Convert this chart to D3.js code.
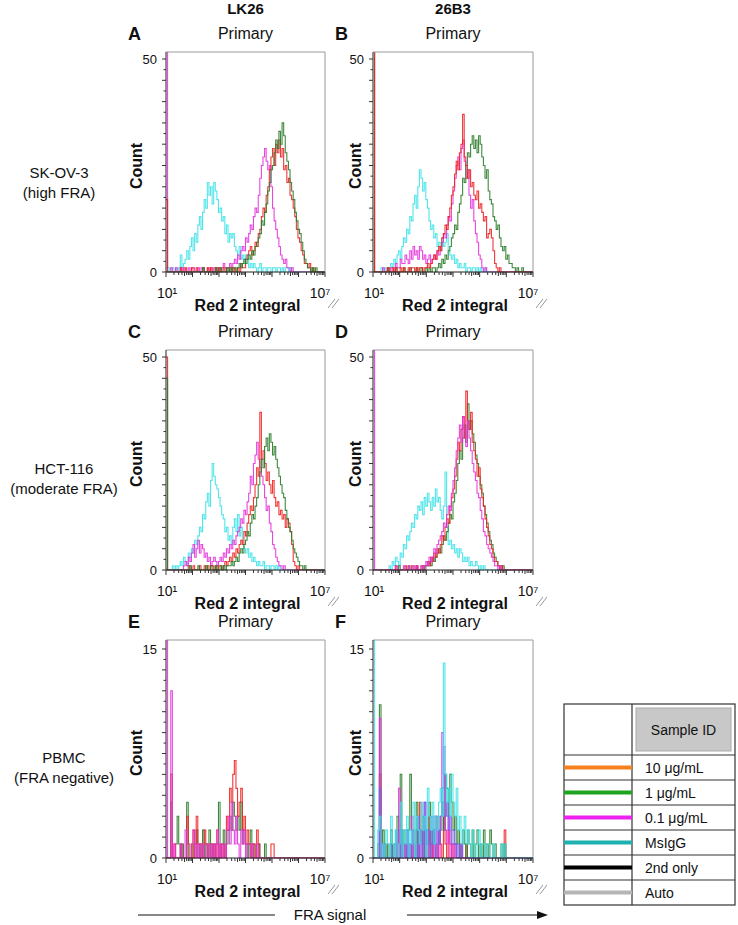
<!DOCTYPE html>
<html><head><meta charset="utf-8">
<script src="https://cdn.jsdelivr.net/npm/d3@7"></script>
<style>
body{margin:0;background:#fff}
svg{display:block}
text{font-family:"Liberation Sans",Arial,Helvetica,sans-serif;fill:#111}
</style>
</head><body>
<svg id="c" width="738" height="925"></svg>
<script>
// ---------- DATA ----------
const binLogStart = 1.0;     // log10 of first histogram channel
const binLogWidth = 0.06;    // channel width in decades
const logEnd = 7;
const columnTitles = ["LK26", "26B3"];
const rowTitles = [["SK-OV-3", "(high FRA)"], ["HCT-116", "(moderate FRA)"], ["PBMC", "(FRA negative)"]];
const panelLetters = ["A", "B", "C", "D", "E", "F"];
const panelTitle = "Primary";
const rowYMax = [50, 50, 15];
const xTickLabels = ["10\u00B9", "10\u2077"];
const xAxisTitle = "Red 2 integral";
const yAxisTitle = "Count";
const bottomLabel = "FRA signal";
const legendHeader = "Sample ID";
const legendLabels = ["10 \u03BCg/mL", "1 \u03BCg/mL", "0.1 \u03BCg/mL", "MsIgG", "2nd only", "Auto"];
const legendColors = ["#f5821f", "#1ea41e", "#ee22ee", "#1fb0b0", "#000000", "#b5b5b5"];
const seriesColors = {cyan: "#3fe2e8", magenta: "#e433dc", red: "#ee2222", green: "#2a7c2a", violet: "#7264ee"};

// Panel A
const A_cyan = [1,1,0,1,1,0,1,0,1,4, 1,2,3,5,3,6,8,5,9,7, 11,13,10,14,17,15,21,18,20,16, 21,19,17,14,15,12,13,9,11,7, 9,8,9,6,5,4,6,3,4,2, 4,3,1,2,1,2,1,0,1,2, 0,1,1,0,1,1,0,1,1,0, 1,1,0,1,0,1,1,0,1,0];
const A_magenta = [60, 0,0,1,0,0,1,0,0,1,0, 1,0,0,1,0,1,1,0,0,1, 0,1,1,0,0,1,0,1,0,1, 1,0,1,0,1,2,1,0,1,2, 1,2,3,2,4,3,5,6,5,8, 7,9,11,10,13,15,14,18,22,25, 27,29,26,24,25,20,15,12,10,8, 6,4,3,2,3,1,1,0,1];
const A_red = [17,0,0,0,0,0,0,0,0,1, 0,0,1,0,0,0,1,0,0,1, 0,0,0,1,0,0,1,0,1,0, 0,1,0,1,0,0,1,0,1,1, 0,1,0,1,0,
  1,0,2,1,1,3,4,5,6,4, 5,7,6,9,10,13,15,14,18,20, 24,27,29,25,30,28,31,27,29,24, 25,21,22,18,17,15,13,10,8,7, 5,4,2,2,1,2,0,1];
const A_green = [0,0,0,0,0,0,0,0,0,0, 0,0,0,0,0,0,0,0,0,0, 0,0,0,1,0,0,0,0,0,0, 0,1,0,0,1,0,0,0,1,0,
  1,0,1,1,0,1,2,1,2,3, 2,3,4,3,5,4,6,7,8,9, 12,11,14,16,19,21,24,25,28,31, 29,33,30,35,32,28,26,24,21,19, 17,14,12,10,9,7,5,3,2,1, 1,0,1,0,1];
// Panel B
const B_cyan = [0,0,0,0,0,1,0,1,0,0, 1,2,1,3,2,4,5,3,6,8, 7,10,9,13,12,16,18,15,20,24, 22,19,21,17,15,12,10,11,8,9, 6,7,5,8,6,7,9,5,4,3, 4,2,3,1,2,1,1,2,0,1, 1,0,1,1,0,1,0,1,0,0, 1];
const B_magenta = [0,0,0,0,0,0,1,0,0,1, 0,1,1,0,2,1,1,3,2,2, 4,3,2,5,3,6,4,5,3,6, 5,3,4,2,3,4,2,3,4,3, 5,4,6,7,9,8,11,13,12,16, 19,22,25,27,24,29,31,26,22,24, 18,15,17,12,9,7,4,3,1,0, 1,0];
const B_red = [60,0,0,0,0,0,0,0,0,1, 0,0,1,0,1,0,0,1,0,1, 0,0,1,0,1,1,0,1,0,1, 1,0,1,1,2,1,2,3,4,3, 5,6,5,8,9,11,10,13,15,18, 20,23,26,24,28,30,37,27,25,22, 24,20,21,18,17,19,15,16,14,12, 13,8,9,10,8,5,2,1,0,1];
const B_green = [60, 0,0,0,0,0,0,0,0,1,0, 0,0,0,1,0,0,0,0,1,0, 0,0,1,0,0,0,1,0,0,1, 0,0,1,0,1,0,1,1,0,
  1,2,1,3,2,4,3,5,6,8, 9,11,10,14,16,18,22,21,25,28, 27,30,32,29,31,28,32,30,27,25, 22,24,19,17,16,13,12,10,11,8, 6,5,6,3,4,2,2,1,1,0, 1,0,0,1];
// Panel C
const C_cyan = [0,0,0,0,1,0,1,0,1,2, 1,3,2,1,4,3,5,4,7,6, 8,10,9,13,12,16,18,15,21,25, 22,20,19,17,15,13,12,9,10,7, 8,6,10,12,9,13,8,10,6,5, 4,5,3,4,2,3,2,1,2,1, 1,2,0,1,1,0,1,1,0,1, 0,1];
const C_magenta = [0,0,0,0,0,0,0,0,0,0, 0,1,2,1,3,2,4,6,3,5, 7,4,6,5,3,4,2,3,1,2, 3,2,1,2,3,2,4,3,5,4, 6,5,7,6,8,9,10,12,11,14, 13,16,18,22,20,25,27,30,26,24, 22,20,17,14,15,11,9,6,5,3, 2,1,1,0,1];
const C_red = [50,0,0,0,0,0,0,0,0,0, 0,0,0,0,1,0,0,1,0,0, 0,1,0,0,1,0,1,0,1,1, 0,1,0,1,1,0,1,2,1,2, 3,2,4,3,5,4,6,7,6,9, 8,11,13,15,14,17,20,24,22,37, 26,28,25,21,23,20,18,21,17,15, 16,13,14,12,13,10,12,11,9,6, 2,1,0,1];
const C_green = [45, 0,0,0,0,0,0,0,0,0,0, 0,0,0,0,1,0,0,0,0,1, 0,0,0,0,1,0,0,1,0,0, 1,0,0,1,0,1,0,1,1,
  1,2,1,2,3,2,4,5,4,6, 7,9,8,11,13,12,15,17,20,23, 26,24,29,31,28,32,30,27,29,26, 24,22,20,18,17,14,12,10,9,7, 5,4,3,2,1,1,0,1];
// Panel D
const D_cyan = [0,0,0,0,0,0,0,0, 0,0,1,0,2,1,3,2,1,4, 3,6,5,8,7,9,11,10,13,12, 15,14,16,13,17,15,18,16,14,17, 15,19,16,17,14,12,15,23,10,6, 7,5,6,4,5,3,5,4,2,3, 2,3,1,2,1,1,2,1,0,1, 0,1];
const D_magenta = [60, 0,0,0,0,0,0,0,0,0,0, 0,0,0,1,0,0,0,0,1,0, 0,1,0,0,1,0,1,0,0,1, 0,1,
  2,1,3,2,3,5,4,6,7,8, 9,11,10,13,15,14,18,21,24,28, 31,34,30,36,33,29,35,31,28,25, 23,21,18,17,14,12,9,8,6,5, 4,3,2,1,1,0,1];
const D_red = [0,0,0,0,0,0,0,0,0,0, 0,0,0,0,1,0,0,0,0,0, 1,0,0,0,1,0,0,1,0,0, 1,0,1,
  1,2,1,3,2,4,3,5,4,6, 8,7,10,12,11,15,17,19,22,26, 30,28,33,36,31,42,35,33,37,30, 28,26,22,24,19,17,15,12,10,8, 6,5,3,2,2,1,0,1];
const D_green = [0,0,0,0,0,0,0,0,0,0, 0,0,0,0,0,0,1,0,0,0, 0,0,1,0,0,0,0,1,0,0, 0,1,0,
  1,1,2,1,3,2,3,4,5,4, 6,8,7,9,11,13,12,16,18,21, 25,28,26,31,34,30,39,33,35,32, 30,27,25,22,20,18,15,13,11,9, 7,6,4,3,2,1,1,0,1];
// Panel E
const E_magenta = [20,0,0,12,0,1,0,0,0,1, 0,0,2,0,0,0,1,2,0,1, 0,1,0,1,0,0,1,0,1,0, 1,0,2,0,1,0,1,0,2,3, 1,4,2,1,3,1,0,2,1,2, 0,1,1,0,1,0,0,1,0,0];
const E_red = [0,0,0,6,0,1,0,0,0,1, 0,0,0,3,1,0,0,2,0,3, 1,0,1,0,2,1,0,1,1,0, 1,0,2,0,1,0,1,0,3,2, 5,4,6,7,5,3,4,5,2,3, 1,2,1,0,1,1,0,2,1,0, 0,0,0,0,0,0,1,1,0,0];
const E_green = [0,0,0,4,0,0,1,3,1,0, 1,0,0,4,0,0,1,0,1,2, 0,1,0,2,0,1,0,2,0,1, 0,1,1,4,0,1,2,0,1,2, 3,2,4,3,2,3,2,4,1,2, 1,0,1,2,0,1,0,0,1,0, 0,0,1,0,0,0,0,0,0,0];
// Panel F
const F_cyan = [20,0,0,2,3,0,1,0,2,1, 0,3,1,0,2,0,1,4,0,2, 1,3,0,2,1,4,0,3,2,1, 4,2,3,0,5,3,2,4,1,3, 2,4,5,3,14,6,4,5,3,6, 4,3,5,2,3,1,2,3,1,2, 1,0,2,1,0,1,2,0,1,1, 0,1,1,0,0,1,0,0,0,0, 1,0,1,0,0];
const F_violet = [0,0,0,0,5,0,1,0,0,0, 0,1,0,0,2,0,0,2,0,1, 0,2,0,1,0,2,0,0,3,0, 2,0,4,1,2,0,3,1,2,0, 3,1,2,5,8,3,4,2,3,1, 2,1,0,1,0,1,0,0,0,0];
const F_magenta = [0,0,0,0,10,0,1,0,0,0, 0,0,0,0,1,0,5,0,0,1, 0,2,0,1,3,0,0,1,0,2, 0,1,4,0,2,0,1,0,3,0, 2,0,3,9,6,2,1,3,0,1, 0,1,0,0,0,1,0,0,0,0];
const F_green = [0,0,0,1,11,0,2,1,0,1, 0,2,0,1,0,3,1,6,0,2, 1,0,2,6,2,1,0,4,0,2, 1,3,0,2,1,4,0,2,1,3, 2,1,3,4,2,6,5,3,6,4, 2,3,1,2,0,1,2,1,0,2, 1,0,2,0,1,2,0,1,0,2, 0,1,0,2,1,0,1,0,0,0, 1,0,1,0,0];
const F_red = [0,0,0,0,6,0,0,1,0,0, 0,1,0,0,1,0,0,2,0,1, 0,0,1,0,1,0,0,2,0,4, 1,0,2,1,0,3,1,0,2,1, 0,2,1,0,3,1,0,2,1,0, 1,1,0,0,1,0,0,0,1,0, 0,0,0,0,0,0,0,0,0,0, 0,0,0,0,0,0,0,0,0,0, 0,0,2,0,0];

// ---------- LAYOUT ----------
const svg = d3.select("#c");
const cols = [{x0: 166, x1: 325, countX: 142, letterX: 128}, {x0: 373, x1: 533, countX: 361, letterX: 335}];
const rows = [{y0: 272, tickTop: 59, top: 52, label: 59, labelY: 178},
              {y0: 570, tickTop: 357, top: 350, label: 64, labelY: 474},
              {y0: 858, tickTop: 649, top: 640, label: 64, labelY: 763}];
const panels = [
  [["cyan", A_cyan], ["magenta", A_magenta], ["red", A_red], ["green", A_green]],
  [["cyan", B_cyan], ["magenta", B_magenta], ["green", B_green], ["red", B_red]],
  [["cyan", C_cyan], ["magenta", C_magenta], ["red", C_red], ["green", C_green]],
  [["cyan", D_cyan], ["green", D_green], ["red", D_red], ["magenta", D_magenta]],
  [["green", E_green], ["red", E_red], ["magenta", E_magenta]],
  [["red", F_red], ["green", F_green], ["magenta", F_magenta], ["violet", F_violet], ["cyan", F_cyan]]
];
const nBins = Math.round((logEnd - binLogStart) / binLogWidth);

// column titles
columnTitles.forEach((t, c) => {
  svg.append("text").attr("x", (cols[c].x0 + cols[c].x1) / 2).attr("y", 14)
    .attr("text-anchor", "middle").attr("font-size", 15).attr("font-weight", "bold").text(t);
});
// row titles
rowTitles.forEach((lines, r) => {
  lines.forEach((l, k) => {
    svg.append("text").attr("x", rows[r].label).attr("y", rows[r].labelY + k * 19.5)
      .attr("text-anchor", "middle").attr("font-size", 15).text(l);
  });
});

panels.forEach((series, p) => {
  const r = Math.floor(p / 2), c = p % 2;
  const C = cols[c], R = rows[r];
  const x = d3.scaleLog().domain([1e1, 1e7]).range([C.x0, C.x1]);
  const y = d3.scaleLinear().domain([0, rowYMax[r]]).range([R.y0, R.tickTop]);
  const g = svg.append("g");

  // letter + title
  g.append("text").attr("x", C.letterX).attr("y", R.top - 12).attr("font-size", 18).attr("font-weight", "bold").text(panelLetters[p]);
  g.append("text").attr("x", (C.x0 + C.x1) / 2).attr("y", R.top - 13).attr("text-anchor", "middle").attr("font-size", 16).text(panelTitle);

  // clip
  const clipId = "clip" + p;
  g.append("clipPath").attr("id", clipId).append("rect")
    .attr("x", C.x0 - 0.5).attr("y", R.top).attr("width", C.x1 - C.x0 + 0.5).attr("height", R.y0 - R.top + 0.5);

  // series
  const line = d3.line().x(d => x(d[0])).y(d => y(d[1])).curve(d3.curveStepAfter);
  const lg = g.append("g").attr("clip-path", `url(#${clipId})`);
  series.forEach(([col, vals]) => {
    const pts = [];
    for (let i = 0; i < nBins; i++) {
      pts.push([Math.pow(10, binLogStart + i * binLogWidth), i < vals.length ? vals[i] : 0]);
    }
    pts.push([Math.pow(10, logEnd), 0]);
    lg.append("path").attr("d", line(pts)).attr("fill", "none")
      .attr("stroke", seriesColors[col]).attr("stroke-width", 1.1).attr("stroke-opacity", 0.9);
  });

  // frame top/right
  g.append("path").attr("d", `M${C.x0},${R.top}H${C.x1}V${R.y0}`).attr("fill", "none").attr("stroke", "#9a9a9a").attr("stroke-width", 1);
  // axes lines
  g.append("line").attr("x1", C.x0).attr("x2", C.x0).attr("y1", R.y0).attr("y2", R.top).attr("stroke", "#222").attr("stroke-width", 1);
  g.append("line").attr("x1", C.x0).attr("x2", C.x1).attr("y1", R.y0).attr("y2", R.y0).attr("stroke", "#222").attr("stroke-width", 1);

  // y ticks
  const nY = 20;
  const yStep = rowYMax[r] / nY;
  for (let k = 0; k <= nY; k++) {
    const v = k * yStep, len = (k % 2 === 0) ? 4 : 2.5;
    g.append("line").attr("x1", C.x0 - len).attr("x2", C.x0).attr("y1", y(v)).attr("y2", y(v)).attr("stroke", "#333").attr("stroke-width", 1);
  }
  g.append("text").attr("x", C.x0 - 9).attr("y", y(rowYMax[r]) + 5).attr("text-anchor", "end").attr("font-size", 13).text(rowYMax[r]);
  g.append("text").attr("x", C.x0 - 9).attr("y", y(0) + 5).attr("text-anchor", "end").attr("font-size", 13).text(0);

  // x ticks (log)
  for (let d = 1; d <= 6; d++) {
    for (let k = 1; k <= 9; k++) {
      const v = k * Math.pow(10, d), len = k === 1 ? 5 : (k === 5 ? 4 : 3);
      g.append("line").attr("x1", x(v)).attr("x2", x(v)).attr("y1", R.y0).attr("y2", R.y0 + len).attr("stroke", "#333").attr("stroke-width", 1);
    }
  }
  g.append("line").attr("x1", x(1e7)).attr("x2", x(1e7)).attr("y1", R.y0).attr("y2", R.y0 + 5).attr("stroke", "#333");
  g.append("text").attr("x", x(1e1) + 1).attr("y", R.y0 + 26).attr("text-anchor", "middle").attr("font-size", 14).text(xTickLabels[0]);
  g.append("text").attr("x", x(1e7) - 5).attr("y", R.y0 + 26).attr("text-anchor", "middle").attr("font-size", 14).text(xTickLabels[1]);
  g.append("text").attr("x", (C.x0 + C.x1) / 2 + 2).attr("y", R.y0 + 39).attr("text-anchor", "middle").attr("font-size", 16).attr("font-weight", "bold").text(xAxisTitle);
  // break marks
  [0, 4].forEach(o => {
    g.append("line").attr("x1", C.x1 + 3 + o).attr("y1", R.y0 + 36).attr("x2", C.x1 + 10 + o).attr("y2", R.y0 + 27)
      .attr("stroke", "#999").attr("stroke-width", 1);
  });
  // Count label
  g.append("text").attr("transform", `translate(${C.countX},${(R.top + R.y0) / 2 + 4}) rotate(-90)`)
    .attr("text-anchor", "middle").attr("font-size", 16).attr("font-weight", "bold").text(yAxisTitle);
});

// bottom arrow
const ay = 915;
svg.append("line").attr("x1", 138).attr("x2", 275).attr("y1", ay).attr("y2", ay).attr("stroke", "#111").attr("stroke-width", 1);
svg.append("line").attr("x1", 407).attr("x2", 540).attr("y1", ay).attr("y2", ay).attr("stroke", "#111").attr("stroke-width", 1);
svg.append("path").attr("d", `M548,${ay}L537,${ay - 4}L537,${ay + 4}Z`).attr("fill", "#111");
svg.append("text").attr("x", 330).attr("y", ay + 5).attr("text-anchor", "middle").attr("font-size", 15).text(bottomLabel);

// legend table
const L = {x0: 564, xm: 632, x1: 735, y0: 704, yh: 755, rh: 25};
const lg = svg.append("g");
const yEnd = L.yh + L.rh * legendLabels.length;
lg.append("rect").attr("x", L.x0).attr("y", L.y0).attr("width", L.x1 - L.x0).attr("height", yEnd - L.y0).attr("fill", "#fff").attr("stroke", "#333").attr("stroke-width", 1.2);
lg.append("line").attr("x1", L.xm).attr("x2", L.xm).attr("y1", L.y0).attr("y2", yEnd).attr("stroke", "#333").attr("stroke-width", 1.2);
lg.append("rect").attr("x", L.xm + 4).attr("y", L.y0 + 4).attr("width", L.x1 - L.xm - 8).attr("height", L.yh - L.y0 - 8).attr("fill", "#c8c8c8").attr("stroke", "#aaa");
lg.append("text").attr("x", (L.xm + L.x1) / 2).attr("y", (L.y0 + L.yh) / 2 + 5).attr("text-anchor", "middle").attr("font-size", 14).text(legendHeader);
legendLabels.forEach((t, i) => {
  const top = L.yh + i * L.rh;
  lg.append("line").attr("x1", L.x0).attr("x2", L.x1).attr("y1", top).attr("y2", top).attr("stroke", "#333").attr("stroke-width", 1.2);
  lg.append("line").attr("x1", L.x0).attr("x2", L.xm).attr("y1", top + L.rh / 2).attr("y2", top + L.rh / 2).attr("stroke", legendColors[i]).attr("stroke-width", 4);
  lg.append("text").attr("x", L.xm + 13).attr("y", top + L.rh / 2 + 5).attr("font-size", 14).text(t);
});
</script>
</body></html>
